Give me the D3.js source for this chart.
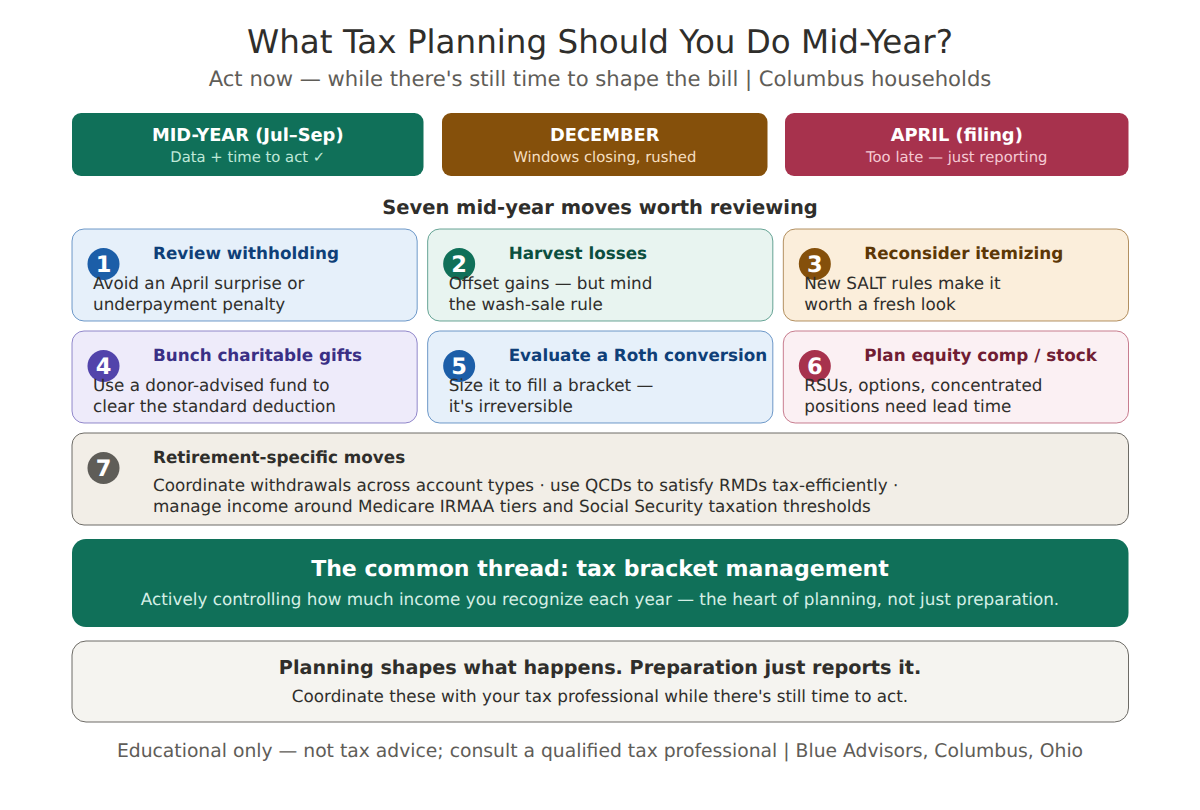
<!DOCTYPE html>
<html>
<head>
<meta charset="utf-8">
<script src="https://cdn.jsdelivr.net/npm/d3@7"></script>
<style>
html,body{margin:0;padding:0;background:#fff}
svg{display:block}
text{font-family:"DejaVu Sans",sans-serif;text-rendering:geometricPrecision}
</style>
</head>
<body>
<div id="chart"></div>
<script>
// textes
var title = "What Tax Planning Should You Do Mid-Year?";
var subtitle = "Act now \u2014 while there's still time to shape the bill | Columbus households";
var section_title = "Seven mid-year moves worth reviewing";
var footer = "Educational only \u2014 not tax advice; consult a qualified tax professional | Blue Advisors, Columbus, Ohio";

// les 3 periodes
var period_names = ["MID-YEAR (Jul\u2013Sep)", "DECEMBER", "APRIL (filing)"];
var period_notes = ["Data + time to act \u2713", "Windows closing, rushed", "Too late \u2014 just reporting"];
var period_fills = ["#107059", "#85500b", "#a7324d"];
var period_note_colors = ["#bfe8d8", "#f5dfc0", "#f5c9d3"];

// les 6 cartes + la carte 7
var move_numbers = [1, 2, 3, 4, 5, 6];
var move_titles = ["Review withholding", "Harvest losses", "Reconsider itemizing", "Bunch charitable gifts", "Evaluate a Roth conversion", "Plan equity comp / stock"];
var move_line1 = ["Avoid an April surprise or", "Offset gains \u2014 but mind", "New SALT rules make it", "Use a donor-advised fund to", "Size it to fill a bracket \u2014", "RSUs, options, concentrated"];
var move_line2 = ["underpayment penalty", "the wash-sale rule", "worth a fresh look", "clear the standard deduction", "it's irreversible", "positions need lead time"];
var move_fills = ["#e6f0fa", "#e8f4f0", "#fbeedb", "#eeebfa", "#e6f0fa", "#fbf0f3"];
var move_strokes = ["#1c5ea8", "#107059", "#85500b", "#5244ab", "#1c5ea8", "#a7324d"];
var move_title_colors = ["#0f3f78", "#0b4f3f", "#5c3706", "#3a2f85", "#0f3f78", "#701d33"];
var move_badges = ["#1c5ea8", "#107059", "#85500b", "#5244ab", "#1c5ea8", "#a7324d"];

var retire_title = "Retirement-specific moves";
var retire_lines = ["Coordinate withdrawals across account types \u00b7 use QCDs to satisfy RMDs tax-efficiently \u00b7",
                    "manage income around Medicare IRMAA tiers and Social Security taxation thresholds"];
var thread_title = "The common thread: tax bracket management";
var thread_note = "Actively controlling how much income you recognize each year \u2014 the heart of planning, not just preparation.";
var close_title = "Planning shapes what happens. Preparation just reports it.";
var close_note = "Coordinate these with your tax professional while there's still time to act.";

var ink = "#2f2e2b", grey = "#5f5d58";

var svg = d3.select('#chart').append('svg').attr('width', 1200).attr('height', 810);

function put_text(x, y, str, size, color, weight, anchor){
    return svg.append('text')
        .attr('x', x).attr('y', y)
        .attr('font-size', size)
        .attr('fill', color)
        .attr('font-weight', weight || 'normal')
        .attr('text-anchor', anchor || 'start')
        .text(str);
}

function put_box(x, y, w, h, r, fill, stroke, sw, so){
    return svg.append('rect')
        .attr('x', x).attr('y', y)
        .attr('width', w).attr('height', h)
        .attr('rx', r).attr('ry', r)
        .attr('fill', fill)
        .attr('stroke', stroke || 'none')
        .attr('stroke-width', sw || 0)
        .attr('stroke-opacity', so === undefined ? 1 : so);
}

// titres
put_text(600, 53, title, 32.55, ink, 'normal', 'middle');
put_text(600, 86, subtitle, 21.15, grey, 'normal', 'middle');

// bandeau des periodes : largeurs inegales
var period_x = d3.scaleOrdinal().domain(period_names).range([72, 442, 785]);
var period_w = d3.scaleOrdinal().domain(period_names).range([351.5, 325.5, 343.5]);

period_names.forEach(function(name, i){
    var x = period_x(name), w = period_w(name);
    put_box(x, 113, w, 63, 9, period_fills[i]);
    put_text(x + w/2, 141, name, 17.85, '#ffffff', 'bold', 'middle');
    put_text(x + w/2, 162, period_notes[i], 14.8, period_note_colors[i], 'normal', 'middle');
});

put_text(600, 214, section_title, 19.5, ink, 'bold', 'middle');

// grille des cartes
var col = d3.scaleBand().domain([0, 1, 2]).range([72, 1128.5]).paddingInner(0.0295).paddingOuter(0);
var row = d3.scaleBand().domain([0, 1]).range([229, 423]).paddingInner(0.098).paddingOuter(0);

function put_badge(cx, cy, n, color){
    svg.append('circle').attr('cx', cx).attr('cy', cy).attr('r', 16).attr('fill', color);
    put_text(cx, cy + 8, n, 22.5, '#ffffff', 'bold', 'middle');
}

move_numbers.forEach(function(n, i){
    var x = col(i % 3), y = row(Math.floor(i / 3));
    put_box(x, y, col.bandwidth(), row.bandwidth(), 12, move_fills[i], move_strokes[i], 1, 0.62);
    put_text(x + 81, y + 30, move_titles[i], 16.8, move_title_colors[i], 'bold');
    put_badge(x + 31.5, y + 35, n, move_badges[i]);
    put_text(x + 21, y + 60, move_line1[i], 16.8, ink);
    put_text(x + 21, y + 81, move_line2[i], 16.8, ink);
});

// carte 7
put_box(72, 433, 1056.5, 92, 12, '#f2eee7', '#6d6b66', 1);
put_badge(103.5, 468, 7, '#5f5d58');
put_text(153, 463, retire_title, 16.8, ink, 'bold');
put_text(153, 491, retire_lines[0], 16.8, ink);
put_text(153, 512, retire_lines[1], 16.8, ink);

// fil conducteur
put_box(72, 539, 1056.5, 88, 14, '#107059');
put_text(600, 576, thread_title, 22.05, '#ffffff', 'bold', 'middle');
put_text(600, 605, thread_note, 16.8, '#d5efe6', 'normal', 'middle');

// conclusion
put_box(72, 641, 1056.5, 81, 14, '#f5f4f0', '#6d6b66', 1);
put_text(600, 674, close_title, 19.2, ink, 'bold', 'middle');
put_text(600, 702, close_note, 16.8, ink, 'normal', 'middle');

put_text(600, 757, footer, 18.75, grey, 'normal', 'middle');
</script>
</body>
</html>
